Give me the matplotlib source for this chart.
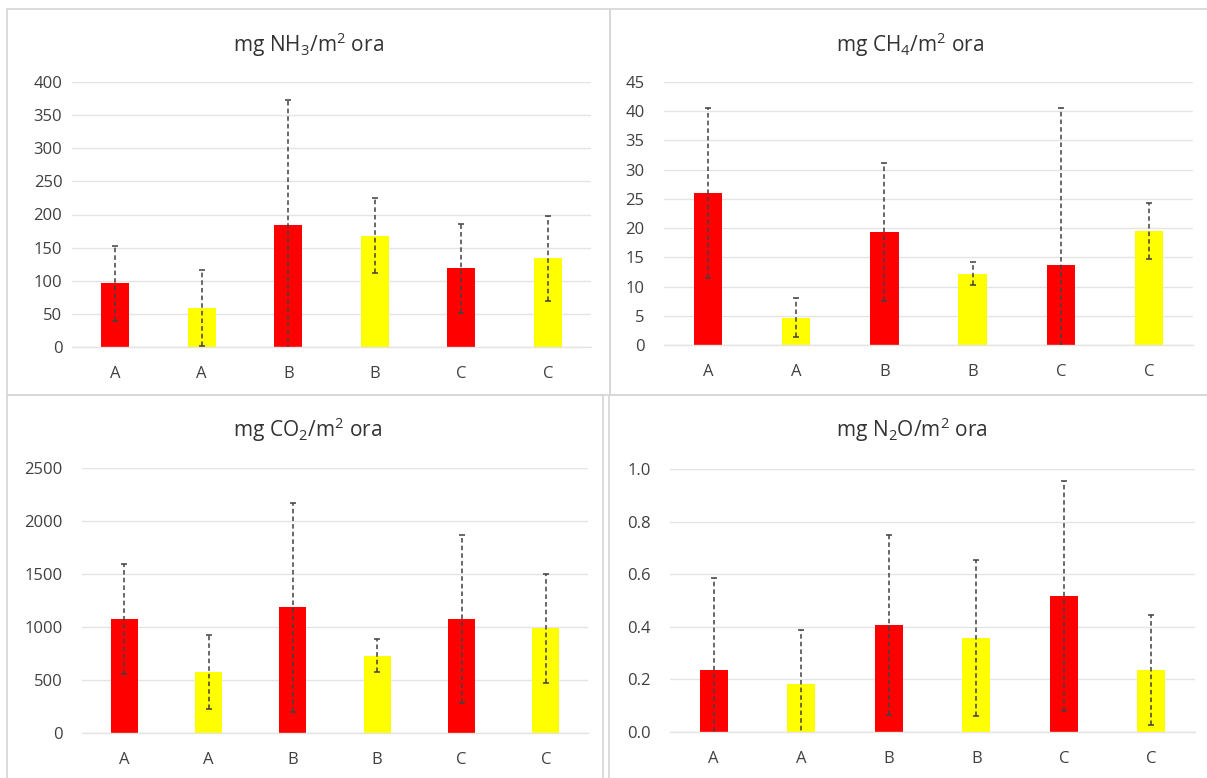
import matplotlib
matplotlib.use("Agg")
import matplotlib.pyplot as plt
from matplotlib.patches import Rectangle
from matplotlib.ticker import FormatStrFormatter, MultipleLocator

plt.rcParams['font.family'] = ['Open Sans', 'DejaVu Sans']
plt.rcParams['mathtext.fontset'] = 'custom'
plt.rcParams['mathtext.rm'] = 'Open Sans'
plt.rcParams['mathtext.it'] = 'Open Sans'

# ---- data ----
categories = ['A', 'A', 'B', 'B', 'C', 'C']
bar_colors = ['#FF0000', '#FFFF00', '#FF0000', '#FFFF00', '#FF0000', '#FFFF00']

nh3 = [96, 59, 184, 168, 119, 134]
nh3_err = [56, 57, 189, 57, 67, 64]

ch4 = [26.0, 4.7, 19.3, 12.2, 13.7, 19.5]
ch4_err = [14.5, 3.3, 11.8, 2.0, 26.9, 4.8]

co2 = [1075, 577, 1186, 730, 1075, 988]
co2_err = [520, 350, 985, 155, 790, 515]

n2o = [0.235, 0.183, 0.408, 0.358, 0.516, 0.235]
n2o_err = [0.350, 0.206, 0.342, 0.297, 0.438, 0.210]

titles = [r'mg NH$_3$/m$^2$ ora', r'mg CH$_4$/m$^2$ ora',
          r'mg CO$_2$/m$^2$ ora', r'mg N$_2$O/m$^2$ ora']

W, H = 1207, 778
fig = plt.figure(figsize=(W / 100, H / 100), dpi=100)
fig.patch.set_facecolor('white')

TXT = '#404040'
GRID = '#e4e4e4'


def px_axes(x0, y0, x1, y1):
    return fig.add_axes([x0 / W, 1 - y1 / H, (x1 - x0) / W, (y1 - y0) / H])


def panel_box(x0, y0, x1, y1):
    fig.patches.append(Rectangle((x0 / W, 1 - y1 / H), (x1 - x0) / W, (y1 - y0) / H,
                                 transform=fig.transFigure, fill=False,
                                 edgecolor='#d6d6d6', linewidth=1.2))


def draw(ax, vals, errs, ymax, step, fmt, title, tx, ty, ypad, width=0.32):
    x = list(range(len(categories)))
    ax.bar(x, vals, width=width, color=bar_colors, zorder=2)
    eb = ax.errorbar(x, vals, yerr=errs, fmt='none', ecolor='#404040',
                     elinewidth=1.1, capsize=2.5, capthick=1.1, zorder=3)
    for lc in eb[2]:
        lc.set_linestyle((0, (3, 2)))
    ax.set_xlim(-0.5, len(categories) - 0.5)
    ax.set_ylim(0, ymax)
    ax.yaxis.set_major_locator(MultipleLocator(step))
    ax.yaxis.set_major_formatter(FormatStrFormatter(fmt))
    ax.set_xticks(x)
    ax.set_xticklabels(categories)
    ax.grid(axis='y', color=GRID, linewidth=1.0, zorder=0)
    ax.set_axisbelow(True)
    for s in ['top', 'right', 'left']:
        ax.spines[s].set_visible(False)
    ax.spines['bottom'].set_color(GRID)
    ax.spines['bottom'].set_linewidth(1.0)
    ax.tick_params(axis='both', length=0, labelsize=12, colors=TXT)
    ax.tick_params(axis='y', pad=ypad)
    ax.tick_params(axis='x', pad=14)
    fig.text(tx / W, 1 - ty / H, title, ha='center', va='center',
             fontsize=15, color='#333333')


# panel borders
panel_box(7, 9, 610, 395)
panel_box(610, 9, 1212, 395)
panel_box(7, 395, 603, 783)
panel_box(609, 395, 1212, 783)

ax1 = px_axes(72, 82, 591, 347)
draw(ax1, nh3, nh3_err, 400, 50, '%d', titles[0], 308, 45, 7)

ax2 = px_axes(664, 82, 1193, 345)
draw(ax2, ch4, ch4_err, 45, 5, '%d', titles[1], 910, 45, 14)

ax3 = px_axes(82, 468, 588, 733)
draw(ax3, co2, co2_err, 2500, 500, '%d', titles[2], 308, 430, 14)

ax4 = px_axes(670, 469, 1195, 732)
draw(ax4, n2o, n2o_err, 1.0, 0.2, '%.1f', titles[3], 912, 430, 14)

fig.savefig('out.png', dpi=100)
